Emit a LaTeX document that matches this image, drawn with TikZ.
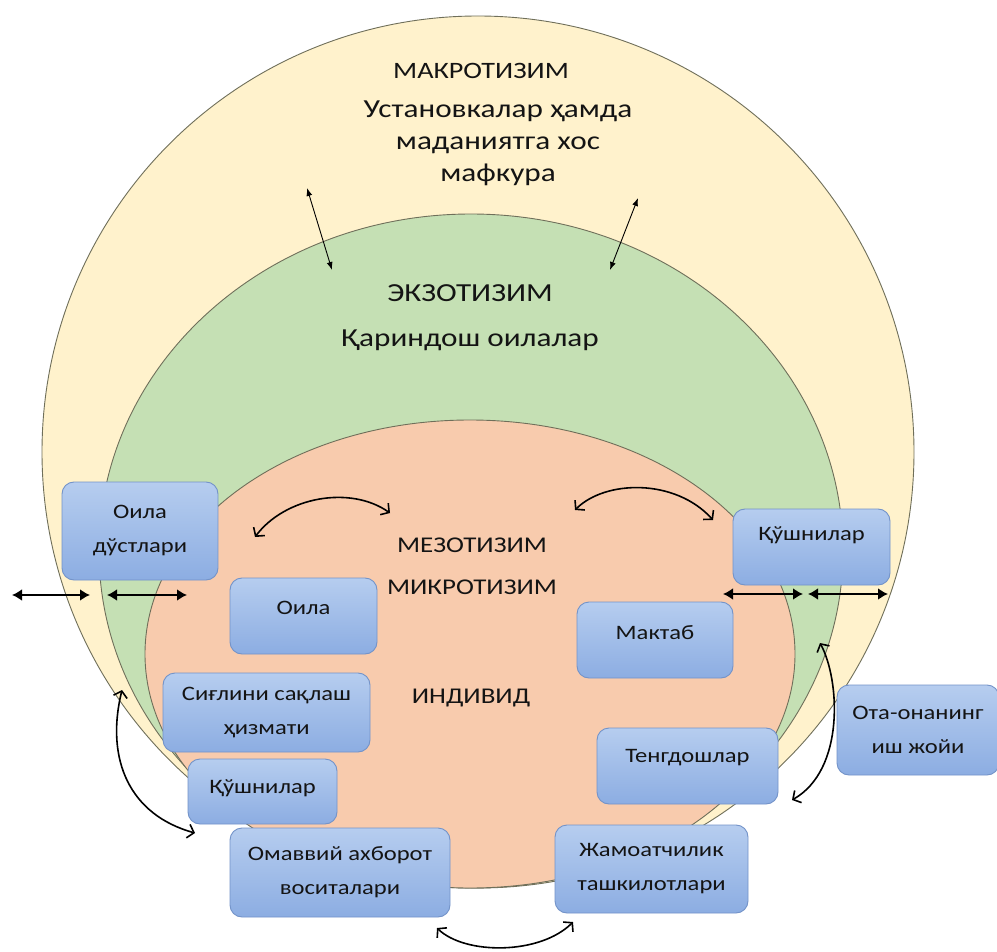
\documentclass[tikz,border=0pt]{standalone}
\usepackage{fontspec}
\setmainfont[FakeStretch=1.2]{Carlito}
\usetikzlibrary{arrows.meta}
\definecolor{macroC}{HTML}{FFF2CC}
\definecolor{exoC}{HTML}{C5E0B4}
\definecolor{mesoC}{HTML}{F8CBAD}
\definecolor{ringline}{HTML}{6F6F5A}
\definecolor{boxtop}{HTML}{B6CDEF}
\definecolor{boxbot}{HTML}{8CADE2}
\definecolor{boxline}{HTML}{7393C9}
\definecolor{txt}{HTML}{141414}
\tikzset{
  ring/.style={draw=ringline, line width=0.9pt},
  lbl/.style={text=txt, font=\fontsize{22.5}{31}\selectfont, align=center, inner sep=0pt},
  biglbl/.style={lbl, font=\fontsize{26}{32}\selectfont},
  box/.style={rounded corners=12pt, draw=boxline, line width=0.9pt, top color=boxtop, bottom color=boxbot,
              text=txt, font=\fontsize{20.5}{34}\selectfont, align=center, inner sep=0pt},
  thinarrow/.style={line width=0.9pt, {Latex[length=8pt,width=6pt]}-{Latex[length=8pt,width=6pt]}},
  thickarrow/.style={line width=2.8pt, {Latex[length=10pt,width=12pt]}-{Latex[length=10pt,width=12pt]}},
  curvearrow/.style={line width=1.6pt, {Straight Barb[length=6pt,width=14pt]}-{Straight Barb[length=6pt,width=14pt]}}
}
\begin{document}
\begin{tikzpicture}[x=1pt, y=-1pt]
\useasboundingbox (0,0) rectangle (997,952);
\fill[white] (0,0) rectangle (997,952);
% nested rings
\draw[ring, fill=macroC] (478,452) ellipse [x radius=436pt, y radius=436pt];
\draw[ring, fill=exoC] (471,551) ellipse [x radius=372pt, y radius=337pt];
\draw[ring, fill=mesoC] (470,654) ellipse [x radius=325pt, y radius=234pt];
% ring labels
\node[lbl, font=\fontsize{23.5}{31}\selectfont] (macro) at (481,71) {МАКРОТИЗИМ};
\node[biglbl] (macrod) at (498,143) {Установкалар ҳамда\\маданиятга хос\\мафкура};
\node[biglbl] (exo) at (470,293) {ЭКЗОТИЗИМ};
\node[biglbl] (exod) at (470,340) {Қариндош оилалар};
\node[lbl] (meso) at (472,545) {МЕЗОТИЗИМ};
\node[lbl] (micro) at (472,587) {МИКРОТИЗИМ};
\node[lbl] (indiv) at (471,698) {ИНДИВИД};
% arrow end points
\coordinate (t1a) at (307,188); \coordinate (t1b) at (332,270);
\coordinate (t2a) at (638,198); \coordinate (t2b) at (610,270);
\coordinate (h1a) at (12,595);  \coordinate (h1b) at (90,595);
\coordinate (h2a) at (107,595); \coordinate (h2b) at (187,595);
\coordinate (h3a) at (723,594); \coordinate (h3b) at (803,594);
\coordinate (h4a) at (808,594); \coordinate (h4b) at (888,594);
\coordinate (ca1) at (255,537); \coordinate (ca2) at (390,513);
\coordinate (cb1) at (575,510); \coordinate (cb2) at (713,520);
\coordinate (cc1) at (122,690); \coordinate (cc2) at (195,833);
\coordinate (cd1) at (820,643); \coordinate (cd2) at (792,800);
\coordinate (ce1) at (437,928); \coordinate (ce2) at (573,922);
\draw[thinarrow] (t1a) -- (t1b);
\draw[thinarrow] (t2a) -- (t2b);
\draw[thickarrow] (h1a) -- (h1b);
\draw[thickarrow] (h2a) -- (h2b);
\draw[thickarrow] (h3a) -- (h3b);
\draw[thickarrow] (h4a) -- (h4b);
\draw[curvearrow] (ca1) .. controls (285,497) and (350,485) .. (ca2);
\draw[curvearrow] (cb1) .. controls (605,480) and (675,478) .. (cb2);
\draw[curvearrow] (cc1) .. controls (105,760) and (130,815) .. (cc2);
\draw[curvearrow] (cd1) .. controls (840,680) and (845,770) .. (cd2);
\draw[curvearrow] (ce1) .. controls (465,955) and (540,955) .. (ce2);
% boxes
\node[box, minimum width=156pt, minimum height=98pt] (friends) at (140,531) {Оила\\дўстлари};
\node[box, minimum width=147pt, minimum height=76pt, text depth=16pt] (family) at (303.5,616) {Оила};
\node[box, minimum width=157pt, minimum height=76pt, text depth=26pt] (neighR) at (811.5,547) {Қўшнилар};
\node[box, minimum width=156pt, minimum height=76pt, text depth=14pt] (school) at (655,640) {Мактаб};
\node[box, minimum width=207pt, minimum height=79pt] (health) at (266.5,712.5) {Сиғлини сақлаш\\ҳизмати};
\node[box, minimum width=149pt, minimum height=65pt, text depth=10pt] (neighL) at (262.5,791.5) {Қўшнилар};
\node[box, minimum width=220pt, minimum height=89pt] (media) at (340,872.5) {Омаввий ахборот\\воситалари};
\node[box, minimum width=181pt, minimum height=76pt, text depth=20pt] (peers) at (687.5,766) {Тенгдошлар};
\node[box, minimum width=162pt, minimum height=90pt] (work) at (918,730) {Ота-онанинг\\иш жойи};
\node[box, minimum width=193pt, minimum height=88pt] (public) at (651.5,869) {Жамоатчилик\\ташкилотлари};
\end{tikzpicture}
\end{document}
